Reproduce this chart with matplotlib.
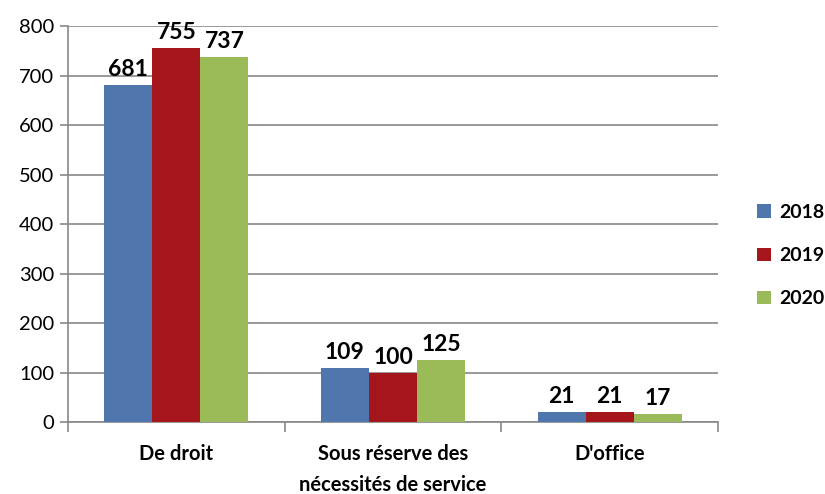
import numpy as np
import matplotlib
matplotlib.use('Agg')
import matplotlib.pyplot as plt

categories = ['De droit', 'Sous réserve des\nnécessités de service', "D'office"]
years = ['2018', '2019', '2020']
values_2018 = [681, 109, 21]
values_2019 = [755, 100, 21]
values_2020 = [737, 125, 17]
colors = ['#4F77AE', '#A5161C', '#9BBB59']

plt.rcParams['font.family'] = ['Lato', 'DejaVu Sans']

fig = plt.figure(figsize=(8.25, 4.94), dpi=100)
ax = fig.add_axes([0.0824, 0.1457, 0.788, 0.8016])

x = np.arange(len(categories))
width = 0.222
series = [values_2018, values_2019, values_2020]
for i, (vals, yr, c) in enumerate(zip(series, years, colors)):
    pos = x + (i - 1) * width
    bars = ax.bar(pos, vals, width, color=c, label=yr, zorder=3)
    for b, v in zip(bars, vals):
        ax.text(b.get_x() + b.get_width() / 2, v + 10, str(v), ha='center', va='bottom',
                fontsize=16.5, fontweight='bold', color='black')

ax.set_xlim(-0.5, 2.5)
ax.set_ylim(0, 800)
ax.set_yticks(range(0, 801, 100))
ax.tick_params(axis='y', labelsize=14.5, length=6, color='#888888', width=1.2, pad=4)
ax.grid(axis='y', color='#888888', linewidth=1.2, zorder=0)

ax.set_xticks([-0.5, 0.5, 1.5, 2.5])
ax.set_xticklabels([])
ax.tick_params(axis='x', length=7, color='#888888', width=1.2)
ax.set_xticks(x, minor=True)
ax.set_xticklabels(categories, minor=True, fontsize=14.5, fontweight='bold', linespacing=1.65)
ax.tick_params(axis='x', which='minor', length=0, pad=16)

for s in ['top', 'right']:
    ax.spines[s].set_visible(False)
for s in ['left', 'bottom']:
    ax.spines[s].set_color('#888888')
    ax.spines[s].set_linewidth(1.2)

ax.legend(loc='center left', bbox_to_anchor=(1.06, 0.42), frameon=False, borderaxespad=0,
          borderpad=0, prop={'size': 14, 'weight': 'bold'}, handlelength=0.7, handleheight=0.7,
          handletextpad=0.45, labelspacing=1.35)

fig.savefig('out.png', dpi=100)
